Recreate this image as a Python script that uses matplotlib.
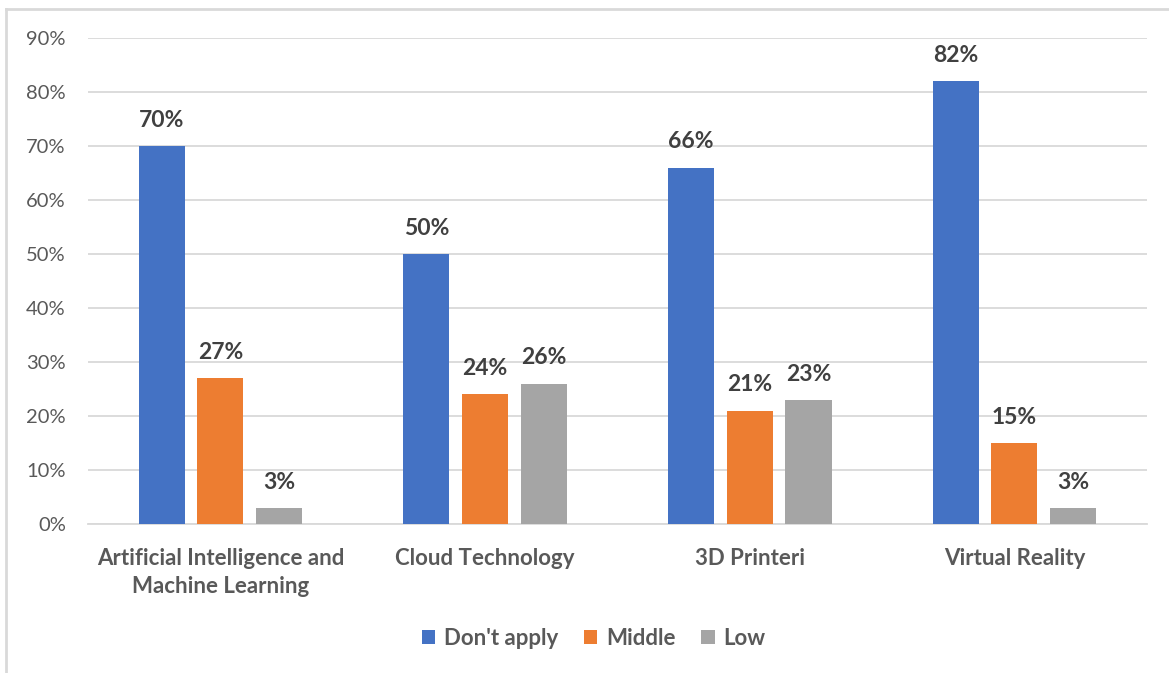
import numpy as np
import matplotlib.pyplot as plt
from matplotlib.lines import Line2D

# Survey results per technology
categories = ["Artificial Intelligence and\nMachine Learning", "Cloud Technology",
              "3D Printeri", "Virtual Reality"]
dont_apply = [0.70, 0.50, 0.66, 0.82]
middle = [0.27, 0.24, 0.21, 0.15]
low = [0.03, 0.26, 0.23, 0.03]
series_names = ["Don't apply", "Middle", "Low"]
colors = ["#4472C4", "#ED7D31", "#A5A5A5"]

plt.rcParams['font.family'] = ['Lato', 'DejaVu Sans']

fig = plt.figure(figsize=(11.69, 6.73), dpi=100)
ax = fig.add_axes([0.0753, 0.2214, 0.9057, 0.7221])

x = np.arange(len(categories))
width = 0.174
step = 0.222

for i, (vals, name, col) in enumerate(zip([dont_apply, middle, low], series_names, colors)):
    bars = ax.bar(x + (i - 1) * step, vals, width, color=col, label=name, zorder=3)
    for b, v in zip(bars, vals):
        ax.annotate(f"{v:.0%}", (b.get_x() + b.get_width() / 2, v),
                    xytext=(0, 11), textcoords='offset points',
                    ha='center', va='bottom', fontsize=16.5, fontweight='bold',
                    color='#404040')

ax.set_xlim(-0.5, 3.5)
ax.set_ylim(0, 0.9)
ax.set_yticks(np.arange(0, 0.91, 0.1))
ax.set_yticklabels([f"{t:.0f}%" for t in np.arange(0, 91, 10)])
ax.set_xticks(x)
ax.set_xticklabels(categories, fontsize=16, fontweight='bold', color='#595959',
                   linespacing=1.45)
ax.tick_params(axis='y', length=0, labelsize=14.5, labelcolor='#595959', pad=16)
ax.tick_params(axis='x', length=0, pad=17)
ax.grid(axis='y', color='#D9D9D9', linewidth=1.3, zorder=0)
for s in ['top', 'right', 'left']:
    ax.spines[s].set_visible(False)
ax.spines['bottom'].set_color('#D9D9D9')
ax.spines['bottom'].set_linewidth(1.3)

leg = fig.legend(loc='center', bbox_to_anchor=(0.508, 0.051), ncol=3, frameon=False,
                 handlelength=0.6, handleheight=0.6, handletextpad=0.4,
                 columnspacing=1.15, prop={'size': 16, 'weight': 'bold'})
for t in leg.get_texts():
    t.set_color('#595959')

# chart frame (top and left edges)
fig.add_artist(Line2D([6 / 1169, 1], [1 - 9 / 673, 1 - 9 / 673], color='#D9D9D9', linewidth=2))
fig.add_artist(Line2D([6 / 1169, 6 / 1169], [0, 1 - 9 / 673], color='#D9D9D9', linewidth=2))

fig.savefig("out.png", dpi=100)
